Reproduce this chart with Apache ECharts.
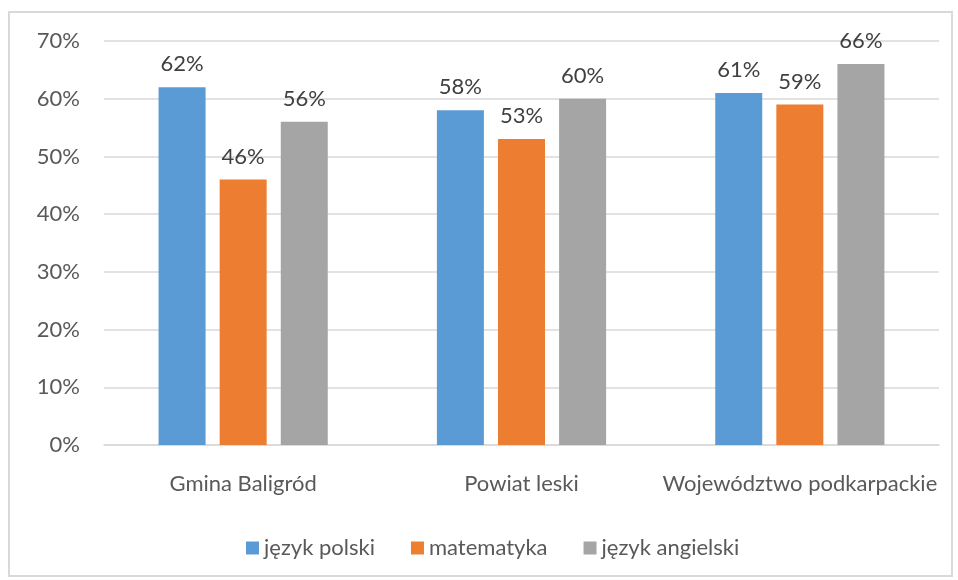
<!DOCTYPE html>
<html>
<head>
<meta charset="utf-8">
<script src="https://cdn.jsdelivr.net/npm/echarts@6/dist/echarts.min.js"></script>
<style>
  html, body { margin: 0; padding: 0; background: #fff; }
  #chart { width: 958px; height: 580px; }
</style>
</head>
<body>
<div id="chart"></div>
<script>
const categories = ['Gmina Baligród', 'Powiat leski', 'Województwo podkarpackie']
const seriesNames = ['język polski', 'matematyka', 'język angielski']
const polski = [62, 58, 61]
const matematyka = [46, 53, 59]
const angielski = [56, 60, 66]
const colors = ['#5B9BD5', '#ED7D31', '#A5A5A5']

const font = 'Lato'
const textColor = '#595959'
const fontSize = 22

const myChart = echarts.init(document.getElementById('chart'))

function bar(name, data, color) {
  return {
    name: name,
    type: 'bar',
    data: data,
    barWidth: 47,
    barGap: '30%',
    itemStyle: { color: color },
    label: {
      show: true,
      position: 'top',
      distance: 12,
      formatter: '{c}%',
      color: '#404040',
      fontFamily: font,
      fontSize: fontSize
    }
  }
}

myChart.setOption({
  animation: false,
  color: colors,
  graphic: [{
    type: 'rect',
    shape: { x: 9, y: 12, width: 943, height: 564 },
    style: { fill: 'none', stroke: '#D9D9D9', lineWidth: 2 }
  }],
  grid: { left: 104, right: 19, top: 41, bottom: 135 },
  legend: {
    bottom: 16,
    left: 241,
    itemWidth: 13,
    itemHeight: 13,
    itemGap: 36,
    icon: 'rect',
    textStyle: { color: textColor, fontFamily: font, fontSize: fontSize },
    data: seriesNames
  },
  xAxis: {
    type: 'category',
    data: categories,
    axisLine: { lineStyle: { color: '#D9D9D9', width: 1.5 } },
    axisTick: { show: false },
    axisLabel: { interval: 0, color: textColor, fontFamily: font, fontSize: fontSize, margin: 28 }
  },
  yAxis: {
    type: 'value',
    min: 0,
    max: 70,
    interval: 10,
    axisLine: { show: false },
    axisTick: { show: false },
    splitLine: { lineStyle: { color: '#D9D9D9', width: 1.5 } },
    axisLabel: {
      formatter: '{value}%',
      color: textColor,
      fontFamily: font,
      fontSize: fontSize,
      margin: 24
    }
  },
  series: [
    bar(seriesNames[0], polski, colors[0]),
    bar(seriesNames[1], matematyka, colors[1]),
    bar(seriesNames[2], angielski, colors[2])
  ]
})
</script>
</body>
</html>
